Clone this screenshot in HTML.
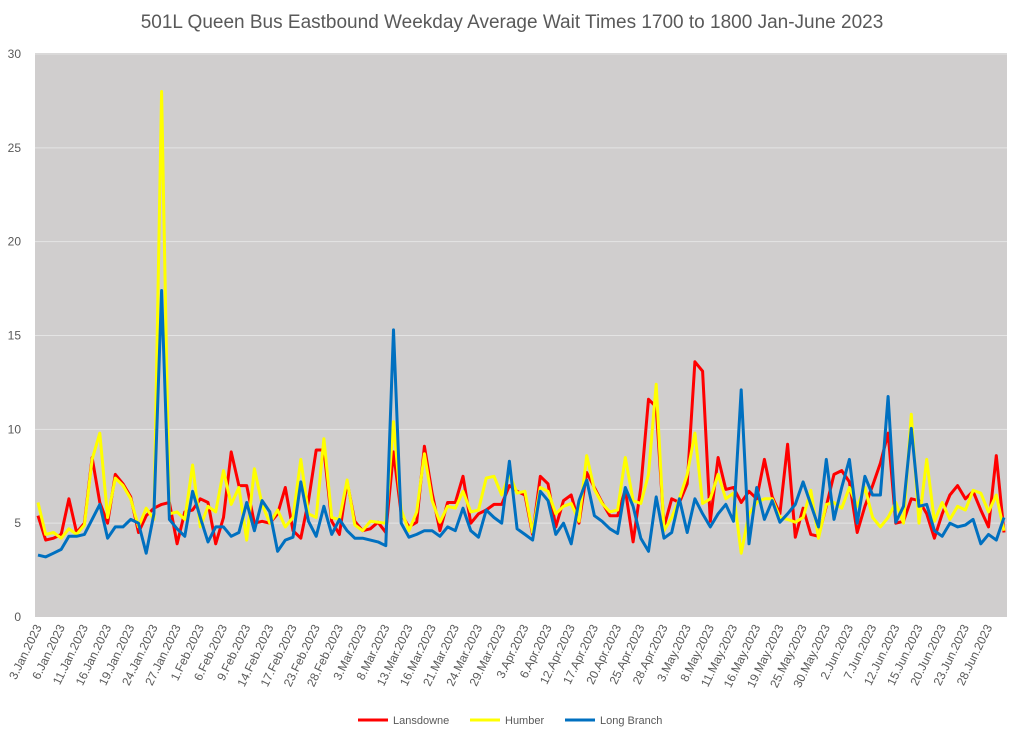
<!DOCTYPE html>
<html><head><meta charset="utf-8"><style>
body{margin:0;background:#fff;}
svg text{font-family:"Liberation Sans",sans-serif;}
</style></head><body>
<svg id="chart" width="1024" height="741" xmlns="http://www.w3.org/2000/svg">
<text x="512" y="28" text-anchor="middle" font-size="19" fill="#595959">501L Queen Bus Eastbound Weekday Average Wait Times 1700 to 1800 Jan-June 2023</text>
<rect x="35" y="53" width="972" height="564" fill="#d0cece"/>
<g id="grid"></g><g id="yt"></g><g id="xt"></g><g id="lines"></g>
<g>
<line x1="358" y1="720" x2="388" y2="720" stroke="#ff0000" stroke-width="3"/>
<text x="393" y="724" font-size="11" fill="#595959">Lansdowne</text>
<line x1="470" y1="720" x2="500" y2="720" stroke="#ffff00" stroke-width="3"/>
<text x="505" y="724" font-size="11" fill="#595959">Humber</text>
<line x1="565" y1="720" x2="595" y2="720" stroke="#0070c0" stroke-width="3"/>
<text x="600" y="724" font-size="11" fill="#595959">Long Branch</text>
</g>
</svg>
<script>
const yTicks=[0,5,10,15,20,25,30];
const lansdowne=[5.4,4.1,4.2,4.4,6.3,4.5,5.0,8.5,6.1,5.0,7.6,7.1,6.4,4.5,5.4,5.8,6.0,6.1,3.9,5.6,5.7,6.3,6.1,3.9,5.3,8.8,7.0,7.0,5.0,5.1,5.0,5.5,6.9,4.6,4.2,6.2,8.9,8.9,5.1,4.4,7.2,5.1,4.6,4.7,5.05,4.5,8.8,5.5,4.8,5.05,9.1,6.6,4.6,6.1,6.1,7.5,5.0,5.5,5.7,6.0,6.0,7.0,6.7,6.5,4.4,7.5,7.1,4.8,6.2,6.5,5.0,7.7,6.9,6.1,5.4,5.4,6.8,4.0,6.9,11.6,11.2,4.8,6.3,6.1,7.1,13.6,13.1,5.1,8.5,6.8,6.9,6.1,6.7,6.3,8.4,6.4,5.5,9.2,4.25,5.8,4.4,4.3,5.9,7.6,7.8,7.2,4.5,5.9,7.0,8.2,9.8,5.0,5.1,6.3,6.2,5.5,4.2,5.5,6.5,7.0,6.3,6.7,5.7,4.8,8.6,4.5];
const humber=[6.1,4.4,4.5,4.2,4.7,4.4,4.9,8.4,9.8,5.3,7.4,7.0,6.3,4.8,5.8,5.2,28.0,5.5,5.6,5.2,8.1,4.8,5.9,5.6,7.8,6.0,6.9,4.1,7.9,6.0,5.0,5.7,4.8,5.3,8.4,5.5,5.3,9.5,5.3,5.2,7.3,4.9,4.6,5.1,5.05,5.0,10.4,5.7,4.6,5.6,8.7,6.2,5.05,5.9,5.8,6.7,5.6,5.7,7.4,7.5,6.5,7.6,6.6,6.7,4.5,6.9,6.7,5.5,5.9,6.05,5.1,8.6,6.8,6.05,5.6,5.7,8.5,6.2,6.05,7.6,12.4,4.6,5.3,6.3,7.6,9.8,6.05,6.3,7.6,6.3,6.6,3.4,5.5,6.1,6.3,6.3,5.3,5.2,5.05,5.3,6.75,4.2,6.0,6.1,5.8,6.9,5.9,6.9,5.3,4.8,5.3,6.1,5.0,10.8,5.0,8.4,5.1,6.1,5.2,5.9,5.7,6.75,6.6,5.6,6.5,4.6];
const longBranch=[3.3,3.2,3.4,3.6,4.3,4.3,4.4,5.2,6.0,4.2,4.8,4.8,5.2,5.0,3.4,5.5,17.4,5.2,4.7,4.3,6.7,5.3,4.0,4.8,4.8,4.3,4.5,6.1,4.6,6.2,5.6,3.5,4.1,4.25,7.2,5.1,4.3,5.9,4.4,5.2,4.6,4.2,4.2,4.1,4.0,3.8,15.3,5.0,4.25,4.4,4.6,4.6,4.3,4.8,4.6,5.8,4.6,4.25,5.7,5.3,5.0,8.3,4.7,4.4,4.1,6.7,6.2,4.4,5.0,3.9,6.2,7.3,5.4,5.1,4.7,4.45,6.9,5.9,4.2,3.5,6.4,4.2,4.5,6.3,4.5,6.3,5.5,4.8,5.5,6.0,5.1,12.1,3.9,6.9,5.2,6.2,5.05,5.5,6.0,7.2,6.0,4.8,8.4,5.2,6.9,8.4,5.0,7.5,6.5,6.5,11.75,5.05,5.9,10.05,5.9,6.0,4.6,4.3,5.0,4.8,4.9,5.2,3.9,4.4,4.1,5.3];
const holidays=["2023-02-20","2023-04-07","2023-05-22"];
const months=["Jan","Feb","Mar","Apr","May","Jun"];
const categories=[];
(function(){let d=new Date(Date.UTC(2023,0,3));const end=new Date(Date.UTC(2023,5,30));
while(d<=end){const wd=d.getUTCDay();const iso=d.toISOString().slice(0,10);
if(wd!==0&&wd!==6&&!holidays.includes(iso))categories.push(d.getUTCDate()+"."+months[d.getUTCMonth()]+".2023");
d=new Date(d.getTime()+86400000);}})();
const NS="http://www.w3.org/2000/svg";
const X0=38,X1=1004,Y0=617,Y1=54;
const n=lansdowne.length;
function xs(i){return X0+(X1-X0)*i/(n-1);}
function ys(v){return Y0-(Y0-Y1)*v/30;}
function mk(t,a,p){const e=document.createElementNS(NS,t);for(const k in a)e.setAttribute(k,a[k]);p.appendChild(e);return e;}
const grid=document.getElementById('grid'),yt=document.getElementById('yt'),xt=document.getElementById('xt'),lines=document.getElementById('lines');
yTicks.forEach(v=>{
 if(v>0){const g=mk('line',{x1:35,x2:1007,y1:ys(v),y2:ys(v),stroke:'#e4e4e4','stroke-width':1},grid);
 
 }
 const t=mk('text',{x:21,y:ys(v)+4,'text-anchor':'end','font-size':12,fill:'#595959'},yt);
 t.textContent=v;
 
 
});
categories.forEach((c,i)=>{
 if(i%3!==0)return;
 const x=xs(i)+4,y=627;
 const t=mk('text',{x:x,y:y,'text-anchor':'end','font-size':12,fill:'#595959',transform:'rotate(-64 '+x+' '+y+')'},xt);
 t.textContent=c;
 
 
});
[[lansdowne,'#ff0000','line-lansdowne'],[humber,'#ffff00','line-humber'],[longBranch,'#0070c0','line-long-branch']].forEach(s=>{
 const pts=s[0].map((v,i)=>xs(i).toFixed(1)+','+ys(v).toFixed(1)).join(' ');
 const p=mk('polyline',{points:pts,fill:'none',stroke:s[1],'stroke-width':3,'stroke-linejoin':'round'},lines);
 
 
});
</script>
</body></html>
